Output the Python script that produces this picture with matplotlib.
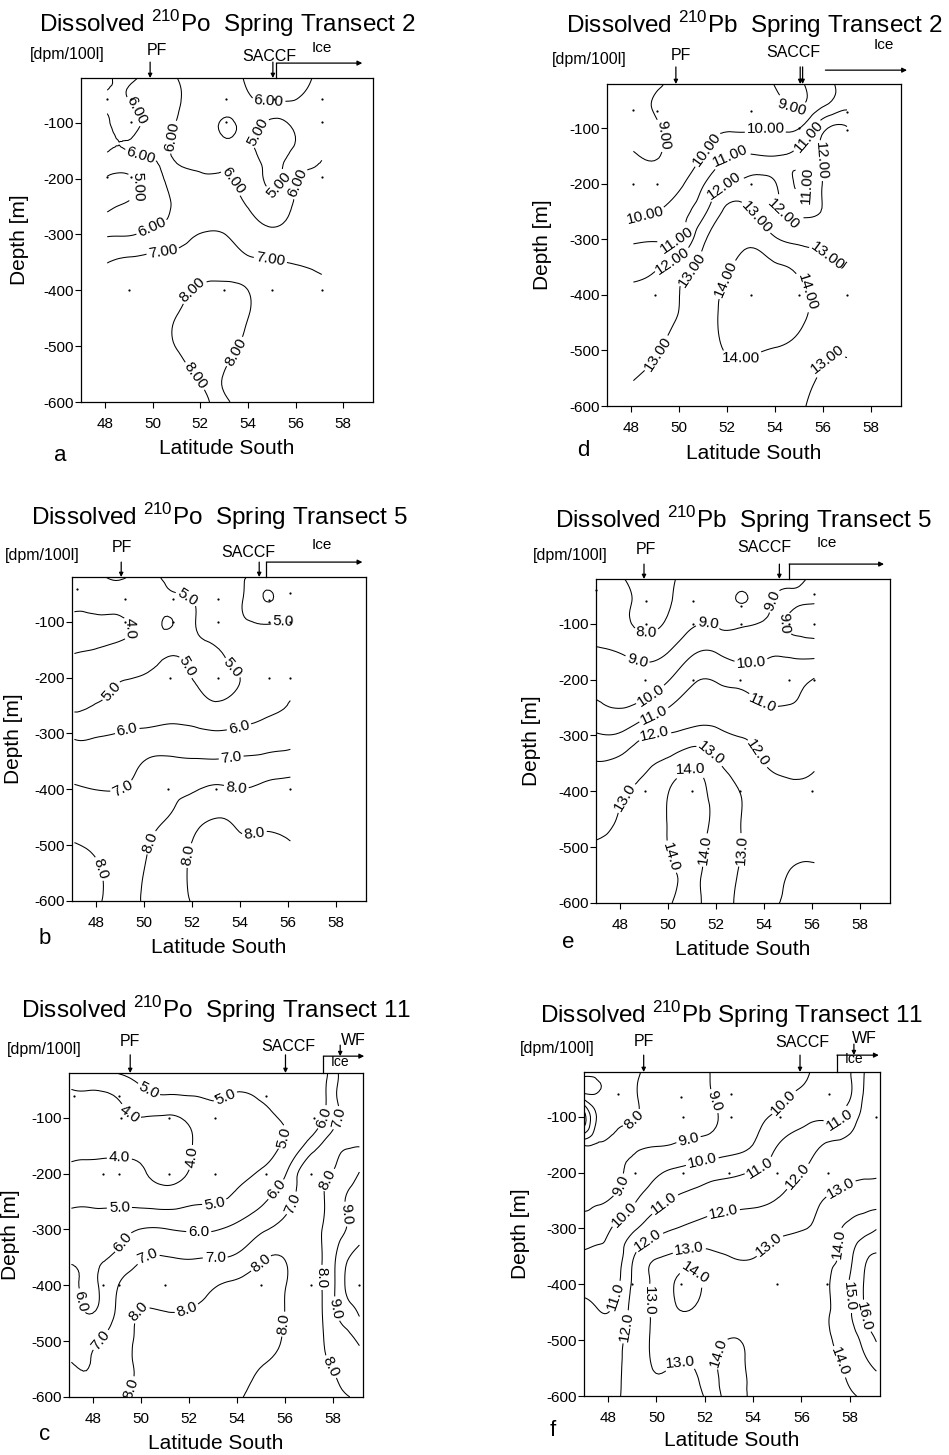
import matplotlib.pyplot as plt
import matplotlib.tri as mtri
import numpy as np

plt.rcParams["font.family"] = ["Liberation Sans", "DejaVu Sans"]
plt.rcParams["axes.unicode_minus"] = False
plt.rcParams["mathtext.fontset"] = "custom"
plt.rcParams["mathtext.rm"] = "Liberation Sans"

# sampling depths (m), these are the rows of every table below
depths = [-20, -60, -100, -150, -200, -250, -300, -350, -400, -450, -500, -550, -600]

# (a) dissolved 210Po, spring transect 2  [dpm/100l]
lat_a = [48.1, 49.1, 50.1, 51.1, 52.1, 53.1, 54.1, 55.1, 56.1, 57.1]
po_t2 = [
    [6.3, 5.8, 6.5, 5.95, 5.6, 5.7, 6.2, 6.5, 6.3, 5.8],
    [5.8, 6.05, 6.3, 6.05, 5.6, 5.5, 5.9, 6.05, 5.95, 5.6],
    [6.2, 5.7, 6.4, 5.9, 5.5, 4.9, 5.3, 4.8, 5.3, 5.6],
    [6.05, 6.05, 6.15, 5.8, 5.5, 5.4, 5.1, 4.7, 5.2, 5.9],
    [4.9, 4.9, 5.7, 6.15, 6.1, 6.05, 5.6, 4.8, 5.95, 6.2],
    [4.8, 5.2, 5.6, 6.2, 6.3, 6.2, 5.95, 5.5, 6.2, 6.4],
    [5.9, 5.95, 6.3, 6.6, 7.05, 6.98, 6.4, 6.2, 6.4, 6.5],
    [6.98, 7.2, 7.3, 7.4, 7.5, 7.5, 7.2, 7.05, 6.95, 6.8],
    [7.3, 7.4, 7.5, 7.8, 8.15, 8.2, 7.95, 7.4, 7.3, 7.2],
    [7.5, 7.6, 7.7, 8.05, 8.3, 8.3, 7.95, 7.5, 7.4, 7.3],
    [7.6, 7.7, 7.8, 8.05, 8.3, 8.2, 7.8, 7.5, 7.4, 7.35],
    [7.6, 7.7, 7.75, 7.8, 8.1, 7.95, 7.6, 7.5, 7.4, 7.35],
    [7.6, 7.65, 7.7, 7.7, 7.9, 8.05, 7.6, 7.5, 7.4, 7.35],
]
st_lat_a = [48.1, 49.1, 53.1, 55.1, 57.1, 49.1, 53.1, 57.1, 48.1, 49.1, 57.1, 49.0, 53.0, 55.0, 57.1]
st_dep_a = [-57, -57, -57, -57, -57, -99, -99, -99, -198, -198, -198, -400, -400, -400, -400]
fr_a = dict(pf=49.9, saccf=[55.05], ice=(55.2, 58.8))

# (d) dissolved 210Pb, spring transect 2
lat_d = [48.1, 49.1, 50.1, 51.1, 52.1, 53.1, 54.1, 55.1, 56.1, 57.0]
pb_t2 = [
    [8.6, 8.9, 9.3, 9.5, 9.6, 9.6, 8.9, 8.9, 9.7, 10.4],
    [8.7, 9.1, 9.4, 9.6, 9.6, 9.7, 9.3, 8.98, 10.05, 10.8],
    [8.7, 8.9, 9.6, 9.85, 9.9, 9.92, 9.97, 10.1, 11.9, 12.1],
    [9.1, 8.95, 9.6, 10.1, 10.97, 11.1, 11.02, 11.3, 12.2, 12.4],
    [9.6, 9.5, 9.9, 11.05, 12.05, 12.3, 11.95, 10.85, 12.2, 12.3],
    [9.9, 9.98, 10.6, 11.9, 13.3, 12.95, 12.1, 11.7, 12.1, 12.5],
    [10.85, 10.9, 11.15, 12.95, 13.6, 13.8, 13.05, 12.8, 12.8, 12.8],
    [11.6, 11.95, 12.6, 13.3, 13.95, 14.2, 14.1, 13.7, 13.1, 13.05],
    [12.3, 12.5, 13.05, 13.6, 14.2, 14.4, 14.4, 14.2, 13.5, 13.3],
    [12.6, 12.8, 13.1, 13.6, 14.3, 14.5, 14.5, 14.1, 13.4, 13.15],
    [12.7, 12.97, 13.3, 13.6, 14.1, 14.1, 13.9, 13.6, 13.1, 13.05],
    [12.98, 13.2, 13.4, 13.6, 13.7, 13.6, 13.4, 13.2, 12.9, 12.8],
    [13.1, 13.3, 13.4, 13.5, 13.6, 13.5, 13.3, 13.05, 12.85, 12.8],
]
st_lat_d = [48.1, 49.1, 53.0, 57.0, 55.0, 57.0, 48.1, 49.1, 53.0, 49.0, 53.0, 55.0, 57.0]
st_dep_d = [-67, -69, -69, -70, -100, -103, -200, -200, -200, -400, -400, -400, -400]
fr_d = dict(pf=49.87, saccf=[55.05, 55.15], ice=(56.1, 59.5))

# (b) dissolved 210Po, spring transect 5
lat_b = [47.1, 48.1, 49.1, 50.1, 51.1, 52.1, 53.1, 54.1, 55.1, 56.1]
po_t5 = [
    [4.05, 4.1, 3.9, 4.7, 5.15, 5.5, 5.3, 5.05, 4.7, 4.8],
    [4.2, 4.3, 4.4, 4.6, 4.7, 5.05, 5.4, 5.02, 3.95, 4.7],
    [3.8, 3.85, 3.9, 4.3, 3.95, 4.95, 5.5, 5.1, 4.9, 4.95],
    [3.9, 4.05, 4.3, 4.6, 4.8, 4.85, 4.98, 5.4, 5.2, 5.3],
    [4.6, 4.8, 4.97, 5.05, 5.15, 4.97, 4.8, 5.05, 5.6, 5.7],
    [4.85, 5.05, 5.3, 5.4, 5.5, 5.4, 5.1, 5.5, 5.8, 6.05],
    [5.8, 5.9, 6.05, 6.2, 6.3, 6.2, 6.1, 6.2, 6.4, 6.6],
    [6.5, 6.4, 6.5, 7.05, 7.15, 7.1, 7.1, 7.2, 7.3, 7.4],
    [7.1, 6.98, 7.02, 7.5, 7.8, 7.95, 8.1, 8.02, 8.2, 8.3],
    [7.4, 7.5, 7.6, 7.8, 8.02, 8.1, 8.01, 8.15, 8.2, 8.2],
    [8.05, 7.85, 7.7, 7.95, 8.2, 7.95, 7.8, 7.9, 7.9, 7.98],
    [8.2, 8.05, 7.8, 8.05, 8.2, 7.9, 7.8, 7.8, 7.9, 7.9],
    [8.2, 8.05, 7.8, 8.1, 8.2, 7.95, 7.8, 7.7, 7.8, 7.8],
]
st_lat_b = [47.2, 49.2, 51.2, 53.1, 55.2, 56.1, 49.2, 51.2, 53.1, 55.2, 56.1,
            51.1, 53.1, 55.2, 56.1, 51.0, 53.0, 56.1]
st_dep_b = [-42, -60, -60, -60, -62, -48, -100, -100, -100, -100, -100,
            -200, -200, -200, -200, -400, -400, -400]
fr_b = dict(pf=49.05, saccf=[54.8], ice=(55.1, 59.1))

# (e) dissolved 210Pb, spring transect 5
lat_e = [47.0, 48.1, 49.1, 50.1, 51.1, 52.1, 53.1, 54.1, 55.1, 56.1]
pb_t5 = [
    [8.4, 8.05, 7.7, 7.9, 8.3, 8.5, 8.6, 8.7, 8.8, 9.1],
    [8.5, 8.2, 7.8, 7.97, 8.4, 8.6, 7.95, 8.8, 9.1, 9.05],
    [8.7, 8.2, 7.85, 8.2, 8.9, 8.9, 8.85, 9.1, 8.9, 8.7],
    [9.1, 8.9, 8.6, 9.05, 9.9, 9.9, 9.6, 9.8, 9.7, 9.6],
    [9.6, 9.6, 9.5, 10.02, 10.9, 10.9, 10.7, 10.5, 10.7, 11.05],
    [10.2, 9.98, 10.4, 11.05, 11.5, 11.5, 11.3, 11.05, 11.05, 11.4],
    [11.1, 11.2, 11.95, 12.1, 12.4, 12.2, 11.95, 11.7, 11.6, 11.5],
    [12.05, 12.3, 12.85, 13.3, 13.8, 13.05, 12.5, 11.95, 11.8, 11.9],
    [12.3, 12.9, 13.3, 14.05, 14.3, 13.6, 12.95, 12.5, 12.2, 12.2],
    [12.6, 13.1, 13.5, 14.1, 14.3, 13.7, 12.97, 12.6, 12.4, 12.4],
    [13.1, 13.3, 13.6, 14.05, 14.2, 13.6, 12.98, 12.6, 12.7, 12.8],
    [13.2, 13.4, 13.7, 13.9, 14.1, 13.5, 12.9, 12.7, 13.05, 13.1],
    [13.3, 13.5, 13.7, 13.97, 14.15, 13.4, 12.9, 12.9, 13.1, 13.2],
]
st_lat_e = [47.0, 49.1, 51.05, 53.05, 56.1, 49.1, 51.05, 53.05, 55.05, 56.1,
            49.05, 51.05, 53.0, 55.05, 56.1, 49.05, 51.0, 53.0, 56.0]
st_dep_e = [-40, -60, -60, -68, -46, -100, -100, -100, -100, -100,
            -200, -200, -200, -200, -200, -400, -400, -400, -400]
fr_e = dict(pf=49.0, saccf=[54.64], ice=(55.05, 59.0))

# (c) dissolved 210Po, spring transect 11
lat_c = [47.1, 48.1, 49.1, 50.1, 51.1, 52.1, 53.1, 54.1, 55.1, 56.1, 57.1, 57.6, 58.1, 58.6, 59.1]
po_t11 = [
    [4.5, 4.6, 5.05, 5.3, 5.4, 5.4, 5.2, 5.3, 5.4, 5.5, 5.5, 5.6, 6.8, 7.3, 7.5],
    [3.9, 3.9, 4.1, 4.75, 4.97, 5.02, 5.1, 4.95, 5.1, 5.4, 5.5, 5.8, 6.9, 7.3, 7.4],
    [3.8, 3.8, 3.9, 3.98, 3.9, 4.2, 4.6, 4.7, 4.85, 5.15, 5.5, 5.97, 6.8, 7.2, 7.3],
    [3.7, 3.8, 3.85, 3.8, 3.7, 3.98, 4.4, 4.6, 4.8, 5.2, 6.5, 7.2, 7.7, 7.9, 7.95],
    [4.3, 4.3, 4.25, 4.05, 3.8, 4.1, 4.6, 4.85, 5.1, 6.1, 7.8, 7.9, 8.1, 8.5, 9.05],
    [4.85, 4.85, 4.8, 4.7, 4.6, 4.85, 4.95, 5.3, 5.9, 6.8, 7.5, 7.95, 8.5, 9.1, 9.4],
    [5.5, 5.5, 5.7, 6.05, 6.02, 5.9, 5.95, 6.3, 6.9, 7.3, 7.7, 8.05, 8.6, 9.05, 9.6],
    [5.9, 5.9, 6.2, 6.95, 7.02, 6.95, 6.98, 7.2, 7.9, 7.9, 7.6, 8.08, 8.97, 9.9, 10.3],
    [6.3, 5.9, 7.05, 7.7, 7.6, 7.5, 7.95, 8.2, 8.4, 7.95, 7.5, 8.1, 9.05, 10.2, 10.5],
    [6.5, 6.05, 7.3, 8.05, 8.02, 8.1, 8.3, 8.4, 8.4, 7.9, 7.5, 8.08, 8.95, 9.5, 10.1],
    [6.8, 6.9, 7.6, 8.2, 8.4, 8.4, 8.4, 8.5, 8.3, 7.8, 7.4, 7.97, 8.6, 8.8, 9.1],
    [7.05, 7.05, 7.6, 8.2, 8.4, 8.4, 8.4, 8.3, 7.95, 7.6, 7.4, 7.8, 8.1, 8.5, 8.7],
    [7.2, 7.3, 7.85, 8.2, 8.4, 8.4, 8.3, 8.05, 7.8, 7.5, 7.4, 7.6, 7.8, 7.95, 8.2],
]
st_lat_c = [47.2, 49.1, 53.1, 55.2, 49.15, 51.15, 53.1, 57.2, 48.4, 49.1, 51.15, 53.1, 55.2, 57.1,
            48.4, 49.1, 51.0, 55.0, 57.1, 59.1]
st_dep_c = [-61, -61, -61, -61, -100, -100, -100, -100, -200, -200, -200, -200, -200, -200,
            -400, -400, -400, -400, -400, -400]
fr_c = dict(pf=49.55, saccf=[56.02], ice=(57.6, 59.3), wf=58.3)

# (f) dissolved 210Pb, spring transect 11
lat_f = [47.0, 47.6, 48.1, 49.1, 50.1, 51.1, 52.1, 53.1, 54.1, 55.1, 56.1, 57.1, 57.6, 58.1, 58.6, 59.1]
pb_t11 = [
    [7.5, 7.6, 7.7, 7.85, 8.4, 8.6, 8.95, 9.3, 9.5, 9.7, 9.9, 10.5, 10.8, 11.05, 12.0, 12.4],
    [7.9, 7.9, 7.7, 7.9, 8.5, 8.6, 8.93, 9.2, 9.5, 9.85, 10.15, 10.6, 10.8, 11.05, 12.1, 12.5],
    [4.5, 7.3, 7.8, 7.95, 8.6, 8.8, 8.85, 9.3, 9.8, 10.2, 10.7, 10.8, 10.9, 11.6, 12.2, 12.5],
    [7.9, 8.1, 8.3, 8.8, 8.95, 9.1, 9.3, 9.6, 10.1, 11.05, 11.5, 12.1, 12.2, 12.3, 12.4, 12.5],
    [8.6, 8.6, 8.85, 9.2, 9.9, 10.3, 10.6, 10.8, 11.1, 11.5, 12.05, 12.5, 12.7, 12.8, 12.85, 12.9],
    [8.8, 8.9, 9.05, 9.9, 10.8, 11.2, 11.5, 11.7, 11.8, 12.1, 12.6, 13.1, 13.3, 13.5, 13.6, 13.6],
    [9.3, 9.5, 9.97, 10.9, 11.7, 12.1, 12.4, 12.5, 12.6, 12.8, 12.97, 13.5, 13.95, 14.3, 14.6, 14.95],
    [10.2, 10.3, 10.3, 12.05, 12.95, 13.3, 13.2, 12.98, 12.99, 13.3, 13.5, 13.8, 14.1, 14.95, 15.8, 16.1],
    [10.8, 10.6, 10.5, 12.3, 13.3, 14.3, 13.8, 13.5, 13.4, 13.4, 13.5, 13.9, 14.6, 15.2, 16.05, 16.4],
    [11.2, 11.05, 11.05, 12.4, 13.3, 13.98, 13.6, 13.5, 13.5, 13.5, 13.6, 13.9, 14.5, 15.05, 16.05, 16.4],
    [11.4, 11.5, 11.6, 12.5, 13.2, 13.4, 13.6, 14.05, 13.7, 13.6, 13.6, 13.9, 14.2, 14.6, 15.3, 16.05],
    [11.5, 11.6, 11.7, 12.5, 13.05, 12.9, 13.5, 14.3, 13.7, 13.6, 13.6, 13.8, 13.95, 14.3, 14.7, 15.1],
    [11.6, 11.7, 11.8, 12.4, 12.8, 12.6, 13.2, 14.3, 13.7, 13.6, 13.6, 13.7, 13.8, 13.95, 14.1, 14.4],
]
st_lat_f = [48.4, 51.0, 53.1, 57.15, 51.1, 53.1, 55.1, 59.1, 49.1, 51.1, 53.0, 55.0, 57.1,
            49.0, 51.0, 55.0, 57.05]
st_dep_f = [-60, -64, -60, -60, -100, -100, -100, -100, -200, -200, -200, -200, -200,
            -400, -400, -400, -400]
fr_f = dict(pf=49.47, saccf=[55.94], ice=(57.47, 59.2), wf=58.17)

# where the contour labels sit (lat, depth)
lab_a = [(49.6, -71), (50.67, -125), (49.5, -160), (49.2, -214), (49.9, -280), (50.45, -322),
         (53.45, -202), (54.9, -77), (54.5, -119), (55.4, -214), (56.1, -208), (55.0, -334),
         (51.85, -406), (53.4, -508), (51.7, -556)]
lab_d = [(49.4, -112), (51.1, -136), (53.6, -100), (54.85, -46), (55.47, -118), (56.0, -154),
         (52.2, -154), (55.2, -201), (48.6, -261), (49.8, -294), (51.9, -204), (49.8, -345),
         (54.5, -249), (50.7, -362), (53.2, -261), (56.2, -330), (51.8, -369), (55.47, -392),
         (52.6, -518), (49.1, -506), (56.45, -524)]
lab_b = [(51.8, -57), (49.8, -110), (55.8, -92), (53.7, -182), (51.6, -185), (48.6, -223),
         (49.3, -295), (53.9, -283), (53.6, -333), (49.2, -408), (53.85, -396), (50.4, -497),
         (51.8, -518), (54.7, -506), (48.4, -539)]
lab_e = [(49.1, -124), (51.65, -109), (54.55, -61), (54.85, -100), (48.6, -180), (53.45, -165),
         (49.45, -237), (54.0, -237), (49.45, -267), (49.45, -302), (53.75, -332), (51.8, -332),
         (48.35, -415), (50.95, -362), (53.05, -505), (50.15, -517), (51.5, -505)]
lab_c = [(50.3, -52), (53.65, -73), (49.5, -94), (56.0, -136), (52.05, -171), (49.1, -171),
         (57.65, -100), (58.2, -100), (53.1, -261), (49.1, -264), (55.7, -231), (56.4, -255),
         (57.85, -213), (58.5, -273), (48.95, -314), (52.4, -317), (50.3, -352), (53.1, -359),
         (54.9, -356), (57.7, -386), (47.6, -427), (49.55, -436), (51.9, -442), (58.15, -442),
         (55.85, -469), (48.5, -505), (57.9, -546), (49.4, -582)]
lab_f = [(49.25, -114), (52.4, -72), (55.3, -75), (51.3, -137), (57.6, -108), (51.85, -173),
         (54.2, -185), (48.4, -221), (55.9, -209), (57.5, -221), (50.35, -257), (48.75, -280),
         (52.8, -280), (49.65, -322), (51.3, -328), (54.75, -334), (57.5, -328), (51.5, -387),
         (48.4, -423), (57.85, -423), (49.7, -429), (58.45, -459), (48.8, -477), (50.9, -524),
         (52.7, -524), (57.75, -536)]

FIG_W, FIG_H = 949, 1455


def rect(l, t, w, h):
    return [l / FIG_W, 1 - (t + h) / FIG_H, w / FIG_W, h / FIG_H]


def draw_section(ax, lats, table, levels, fmt, spots):
    lon, dep = np.meshgrid(lats, depths)
    z = np.array(table, dtype=float).ravel()
    # depth scaled so grid cells are roughly square for the triangulation
    tri = mtri.Triangulation(lon.ravel(), dep.ravel() / 50.0)
    interp = mtri.CubicTriInterpolator(tri, z, kind="min_E")
    fine, zf = mtri.UniformTriRefiner(tri).refine_field(z, triinterpolator=interp, subdiv=3)
    fine = mtri.Triangulation(fine.x, fine.y * 50.0, fine.triangles)
    cs = ax.tricontour(fine, zf, levels=levels, colors="k", linewidths=0.75)
    ax.clabel(cs, fmt=fmt, fontsize=11, inline=True, inline_spacing=2, manual=spots)


def frame(ax):
    ax.set_xlim(47.0, 59.25)
    ax.set_ylim(-600, -20)
    ax.set_xticks(range(48, 59, 2))
    ax.set_yticks(range(-600, -99, 100))
    ax.tick_params(direction="out", length=4, width=0.8, labelsize=11)
    ax.tick_params(axis="x", pad=7)
    ax.tick_params(axis="y", pad=1)
    for s in ax.spines.values():
        s.set_linewidth(0.9)


def fronts(ax, fr, lay):
    tr = ax.get_xaxis_transform()
    arr = dict(arrowstyle="-|>", color="k", lw=0.9, mutation_scale=6, shrinkA=0, shrinkB=0)
    for lat in [fr["pf"]] + fr["saccf"]:
        ax.annotate("", xy=(lat, 1.0), xytext=(lat, lay["arrow_top"]), xycoords=tr,
                    textcoords=tr, arrowprops=arr, annotation_clip=False)
    i0, i1 = fr["ice"]
    y = lay["ice_y"]
    if lay["ice_drop"]:
        ax.plot([i0, i0], [1.0, y], transform=tr, color="k", lw=0.9, clip_on=False)
    ax.annotate("", xy=(i1, y), xytext=(i0, y), xycoords=tr, textcoords=tr,
                arrowprops=dict(arrowstyle="-|>", color="k", lw=0.9, mutation_scale=7,
                                shrinkA=0, shrinkB=0), annotation_clip=False)
    ax.text(*lay["pf_txt"], "PF", transform=tr, ha="center", va="center", fontsize=11.5)
    ax.text(*lay["saccf_txt"], "SACCF", transform=tr, ha="center", va="center", fontsize=11.5)
    ax.text(*lay["ice_txt"], "Ice", transform=tr, ha="center", va="center",
            fontsize=lay.get("ice_fs", 11))
    if "wf" in fr:
        ax.annotate("", xy=(fr["wf"], y), xytext=(fr["wf"], lay["wf_top"]), xycoords=tr,
                    textcoords=tr, arrowprops=arr, annotation_clip=False)
        ax.text(*lay["wf_txt"], "WF", transform=tr, ha="center", va="center", fontsize=11.5)
    ax.text(*lay["units"], "[dpm/100l]", transform=ax.transAxes, ha="left", va="center",
            fontsize=11.5)


panels = [
    ("a", "Po", "2", lat_a, po_t2, st_lat_a, st_dep_a, fr_a, [5, 6, 7, 8], "%.2f", lab_a,
     dict(rect=(81, 78, 292, 324), title_y=1.142, units=(-0.175, 1.071), pf_txt=(50.2, 1.086),
          saccf_txt=(54.9, 1.065), ice_txt=(57.1, 1.093), arrow_top=1.049, ice_y=1.046,
          ice_drop=True, xlabel_y=-0.142, ylabel_x=-0.209, letter=(-0.072, -0.164))),
    ("d", "Pb", "2", lat_d, pb_t2, st_lat_d, st_dep_d, fr_d, [9, 10, 11, 12, 13, 14], "%.2f", lab_d,
     dict(rect=(607, 84, 294, 322), title_y=1.158, units=(-0.187, 1.075), pf_txt=(50.07, 1.09),
          saccf_txt=(54.76, 1.099), ice_txt=(58.54, 1.121), arrow_top=1.053, ice_y=1.043,
          ice_drop=False, xlabel_y=-0.146, ylabel_x=-0.218, letter=(-0.082, -0.137))),
    ("b", "Po", "5", lat_b, po_t5, st_lat_b, st_dep_b, fr_b, [4, 5, 6, 7, 8], "%.1f", lab_b,
     dict(rect=(72, 577, 294, 324), title_y=1.16, units=(-0.228, 1.065), pf_txt=(49.1, 1.09),
          saccf_txt=(54.36, 1.077), ice_txt=(57.4, 1.099), arrow_top=1.046, ice_y=1.046,
          ice_drop=True, xlabel_y=-0.145, ylabel_x=-0.2, letter=(-0.092, -0.115))),
    ("e", "Pb", "5", lat_e, pb_t5, st_lat_e, st_dep_e, fr_e, [8, 9, 10, 11, 12, 13, 14], "%.1f", lab_e,
     dict(rect=(596, 579, 294, 324), title_y=1.157, units=(-0.214, 1.071), pf_txt=(49.1, 1.09),
          saccf_txt=(54.0, 1.096), ice_txt=(56.63, 1.111), arrow_top=1.046, ice_y=1.046,
          ice_drop=True, xlabel_y=-0.145, ylabel_x=-0.218, letter=(-0.095, -0.123))),
    ("c", "Po", "11", lat_c, po_t11, st_lat_c, st_dep_c, fr_c, [4, 5, 6, 7, 8, 9, 10], "%.1f", lab_c,
     dict(rect=(69, 1073, 294, 324), title_y=1.17, units=(-0.211, 1.071), pf_txt=(49.55, 1.096),
          saccf_txt=(56.15, 1.083), ice_txt=(58.3, 1.034), wf_txt=(58.85, 1.099),
          arrow_top=1.056, ice_y=1.052, wf_top=1.086, ice_drop=True, ice_fs=10,
          xlabel_y=-0.142, ylabel_x=-0.198, letter=(-0.082, -0.117))),
    ("f", "Pb", "11", lat_f, pb_t11, st_lat_f, st_dep_f, fr_f, list(range(5, 17)), "%.1f", lab_f,
     dict(rect=(584, 1072, 296, 324), title_y=1.151, units=(-0.216, 1.074), pf_txt=(49.5, 1.093),
          saccf_txt=(56.03, 1.09), ice_txt=(58.17, 1.04), wf_txt=(58.62, 1.102),
          arrow_top=1.052, ice_y=1.052, wf_top=1.086, ice_drop=True, ice_fs=10,
          xlabel_y=-0.136, ylabel_x=-0.216, letter=(-0.105, -0.105))),
]

fig = plt.figure(figsize=(FIG_W / 100, FIG_H / 100), dpi=100)

for key, iso, transect, lats, table, st_lat, st_dep, fr, levels, fmt, spots, lay in panels:
    ax = fig.add_axes(rect(*lay["rect"]))
    frame(ax)
    draw_section(ax, lats, table, levels, fmt, spots)
    ax.plot(st_lat, st_dep, "o", color="k", ms=1.6, mew=0, clip_on=False)
    frame(ax)
    fronts(ax, fr, lay)
    sep = " " if transect == "11" and iso == "Pb" else "  "
    title = "Dissolved $^{\\mathrm{210}}$" + iso + sep + "Spring Transect " + transect
    ax.text(0.5, lay["title_y"], title, transform=ax.transAxes, ha="center",
            va="baseline", fontsize=17.5)
    ax.text(0.5, lay["xlabel_y"], "Latitude South", transform=ax.transAxes, ha="center",
            va="center", fontsize=15)
    ax.text(lay["ylabel_x"], 0.5, "Depth [m]", transform=ax.transAxes, rotation=90,
            ha="center", va="center", fontsize=15)
    ax.text(*lay["letter"], key, transform=ax.transAxes, ha="center", va="center", fontsize=16)

fig.savefig("out.png", dpi=100)
